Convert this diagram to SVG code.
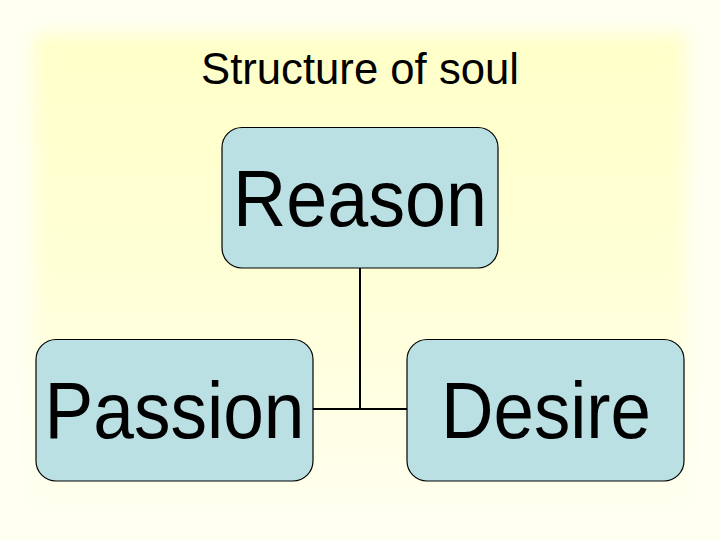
<svg xmlns="http://www.w3.org/2000/svg" width="720" height="540" viewBox="0 0 720 540">
  <defs>
    <linearGradient id="bgfade" x1="0" y1="0" x2="0" y2="1">
      <stop offset="0" stop-color="#FFFFC8"/>
      <stop offset="0.5" stop-color="#FFFFD6"/>
      <stop offset="1" stop-color="#FFFFEE"/>
    </linearGradient>
    <filter id="soft" x="-10%" y="-10%" width="120%" height="120%">
      <feGaussianBlur stdDeviation="9"/>
    </filter>
  </defs>
  <style>
    .node rect { fill: #BBE0E3; stroke: #000000; stroke-width: 1.2; }
    .node text { font-family: "Liberation Sans", Arial, sans-serif; fill: #000000; text-anchor: middle; }
    .big { font-size: 79px; }
    .title { font-family: "Liberation Sans", Arial, sans-serif; font-size: 44px; fill: #000000; text-anchor: middle; }
    .conn { fill: none; stroke: #000000; stroke-width: 2; }
  </style>
  <rect x="0" y="0" width="720" height="540" fill="#FFFFF2"/>
  <rect x="34" y="34" width="652" height="470" fill="url(#bgfade)" filter="url(#soft)"/>
  <text class="title" x="360" y="84" textLength="318" lengthAdjust="spacingAndGlyphs">Structure of soul</text>
  <g id="connectors">
    <path class="conn" d="M360 268 V409"/>
    <path class="conn" d="M313 409 H407"/>
  </g>
  <g id="reason" class="node">
    <rect x="222" y="127.5" width="276" height="140.5" rx="20" ry="20"/>
    <text class="big" x="360" y="226" textLength="254" lengthAdjust="spacingAndGlyphs">Reason</text>
  </g>
  <g id="passion" class="node">
    <rect x="36" y="339.5" width="277" height="141.5" rx="20" ry="20"/>
    <text class="big" x="174.5" y="438" textLength="260" lengthAdjust="spacingAndGlyphs">Passion</text>
  </g>
  <g id="desire" class="node">
    <rect x="407" y="339.5" width="277" height="141.5" rx="20" ry="20"/>
    <text class="big" x="546" y="438" textLength="210" lengthAdjust="spacingAndGlyphs">Desire</text>
  </g>
</svg>
